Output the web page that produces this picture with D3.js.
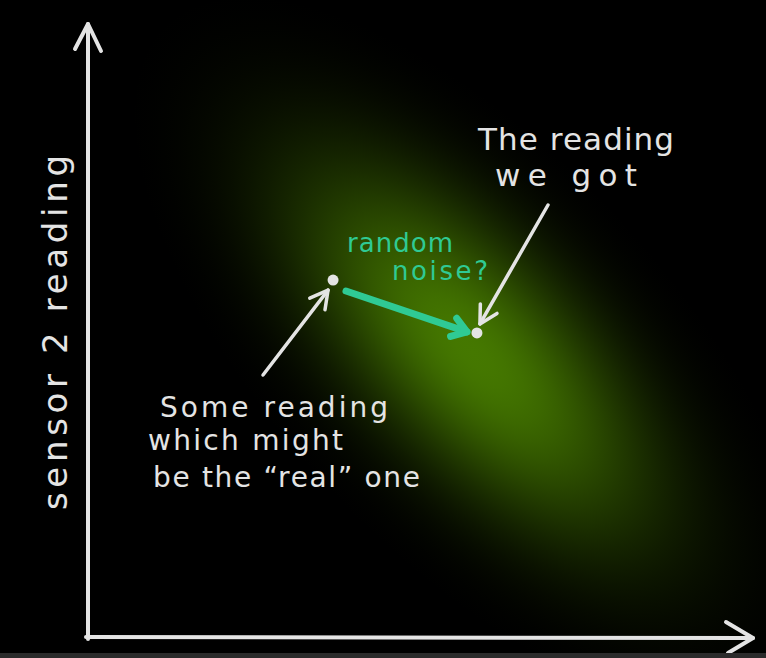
<!DOCTYPE html>
<html>
<head>
<meta charset="utf-8">
<script src="https://cdn.jsdelivr.net/npm/d3@7"></script>
<style>
  html, body { margin: 0; padding: 0; background: #000; overflow: hidden; }
  svg { display: block; }
</style>
</head>
<body>
<svg id="chart"></svg>
<script>
// readings in arbitrary sensor units
const sensorDomain = [0, 10];
const readingNames = ['real', 'measured'];
const readingX = [3.73, 5.92];
const readingY = [5.88, 5.01];

// noise cloud around the true value (mean, spread along/across, tilt in degrees)
const noiseMean = [5.85, 4.7];
const noiseSpread = [6.9, 3.3];
const noiseTilt = 47;

// text labels
const yLabel = 'sensor 2 reading';
const gotLines = ['The reading', 'we got'];
const noiseLines = ['random', 'noise?'];
const realLines = ['Some reading', 'which might', 'be the \u201creal\u201d one'];

const width = 766, height = 658;
const ink = '#e4e4e4', teal = '#2fca94';
const font = '"DejaVu Sans", "Open Sans", sans-serif';

const svg = d3.select('#chart').attr('width', width).attr('height', height);
svg.append('rect').attr('width', width).attr('height', height).attr('fill', '#000');

const x = d3.scaleLinear().domain(sensorDomain).range([88, 745]);
const y = d3.scaleLinear().domain(sensorDomain).range([637, 30]);

// gaussian glow
const defs = svg.append('defs');
const grad = defs.append('radialGradient').attr('id', 'glow');
d3.range(0, 1.0001, 0.05).forEach(t => {
  grad.append('stop')
    .attr('offset', t)
    .attr('stop-color', '#457800')
    .attr('stop-opacity', Math.exp(-3.4 * t * t) * (1 - t * t * t));
});

svg.append('ellipse')
  .attr('cx', 0).attr('cy', 0)
  .attr('rx', x(noiseSpread[0]) - x(0))
  .attr('ry', y(0) - y(noiseSpread[1]))
  .attr('fill', 'url(#glow)')
  .attr('transform', `translate(${x(noiseMean[0])},${y(noiseMean[1])}) rotate(${noiseTilt})`);

// axes (hand drawn arrows)
const axes = svg.append('g').attr('stroke', ink).attr('stroke-width', 4)
  .attr('fill', 'none').attr('stroke-linecap', 'round').attr('stroke-linejoin', 'round');
const x0 = x.range()[0], x1 = x.range()[1] + 8;
const y0 = y.range()[0], y1 = y.range()[1] - 6;
axes.append('path').attr('d', `M${x0},${y0 + 2}L${x0},${y1}`);
axes.append('path').attr('d', `M${x0 - 13},${y1 + 25}L${x0},${y1}L${x0 + 13},${y1 + 27}`);
axes.append('path').attr('d', `M${x0 - 2},${y0}L${x1},${y0 + 1}`);
axes.append('path').attr('d', `M${x1 - 27},${y0 - 15}L${x1},${y0 + 1}L${x1 - 25},${y0 + 16}`);

// y axis title
svg.append('text')
  .attr('transform', `translate(67, 510) rotate(-90)`)
  .attr('font-family', font).attr('font-size', 34).attr('fill', ink)
  .attr('textLength', 355).attr('lengthAdjust', 'spacing')
  .text(yLabel);

// arrows
const arrowHead = (g, tip, ang, len, spread, color, w) => {
  const a1 = ang + Math.PI - spread, a2 = ang + Math.PI + spread;
  g.append('path')
    .attr('d', `M${tip[0] + len * Math.cos(a1)},${tip[1] + len * Math.sin(a1)}L${tip[0]},${tip[1]}L${tip[0] + len * Math.cos(a2)},${tip[1] + len * Math.sin(a2)}`)
    .attr('stroke', color).attr('stroke-width', w).attr('fill', 'none')
    .attr('stroke-linecap', 'round').attr('stroke-linejoin', 'round');
};
const arrow = (from, to, color, w, len, spread) => {
  const g = svg.append('g');
  g.append('path').attr('d', `M${from[0]},${from[1]}L${to[0]},${to[1]}`)
    .attr('stroke', color).attr('stroke-width', w).attr('stroke-linecap', 'round');
  arrowHead(g, to, Math.atan2(to[1] - from[1], to[0] - from[0]), len, spread, color, w);
};

const px = readingX.map(v => x(v));
const py = readingY.map(v => y(v));

arrow([263, 375], [px[0] - 5, py[0] + 10], ink, 3.5, 20, 0.5);
arrow([548, 205], [px[1] + 3, py[1] - 9], ink, 3.5, 20, 0.5);
arrow([346, 291], [px[1] - 10, py[1] - 1], teal, 7, 17, 0.6);

// reading points
svg.selectAll('circle.reading')
  .data(readingNames)
  .join('circle')
  .attr('class', 'reading')
  .attr('cx', (d, i) => px[i])
  .attr('cy', (d, i) => py[i])
  .attr('r', 5.5)
  .attr('fill', ink);

// annotations
const block = (lines, pos, lens, color, size) => {
  svg.append('g').selectAll('text')
    .data(lines)
    .join('text')
    .attr('x', (d, i) => pos[i][0])
    .attr('y', (d, i) => pos[i][1])
    .attr('textLength', (d, i) => lens[i])
    .attr('lengthAdjust', 'spacing')
    .attr('font-family', font).attr('font-size', size).attr('fill', color)
    .text(d => d);
};

block(gotLines, [[478, 150], [495, 186]], [196, 142], ink, 31);
block(noiseLines, [[347, 252], [392, 280]], [106, 96], teal, 26);
block(realLines, [[160, 417], [148, 450], [153, 487]], [228, 195, 267], ink, 28);

// bottom frame strip
svg.append('rect').attr('x', 0).attr('y', 653).attr('width', width).attr('height', 5).attr('fill', '#2b2b2b');
</script>
</body>
</html>
